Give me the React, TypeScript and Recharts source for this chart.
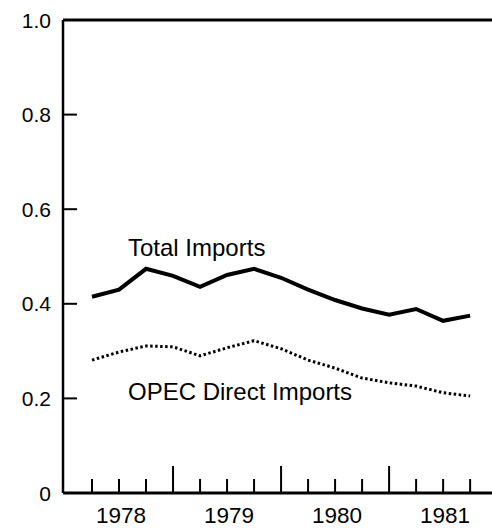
import { LineChart, Line, XAxis, YAxis, ReferenceLine } from "recharts";

// quarter index: 1 = end of Q1 1978 ... 15 = end of Q3 1981
const quarters = [1, 2, 3, 4, 5, 6, 7, 8, 9, 10, 11, 12, 13, 14, 15];
const totalImports = [0.415, 0.43, 0.474, 0.459, 0.436, 0.461, 0.474, 0.455, 0.43, 0.408, 0.39, 0.377, 0.389, 0.364, 0.375];
const opecDirectImports = [0.281, 0.298, 0.311, 0.309, 0.29, 0.307, 0.322, 0.305, 0.281, 0.264, 0.243, 0.233, 0.226, 0.212, 0.205];
const yearLabels = ["1978", "1979", "1980", "1981"];
const yTicks = [0, 0.2, 0.4, 0.6, 0.8, 1.0];

const data = quarters.map((q, i) => ({
  q,
  total: totalImports[i],
  opec: opecDirectImports[i],
}));

const FONT = "'Liberation Sans', Arial, Helvetica, sans-serif";

const XTick = (props: any) => {
  const { x, y, payload } = props;
  const v = payload.value as number;
  const long = v % 4 === 0;
  const showYear = v % 4 === 2;
  return (
    <g>
      <line x1={x} x2={x} y1={y} y2={y - (long ? 27 : 14)} stroke="#000" strokeWidth={2} />
      {showYear && (
        <text x={x + 2} y={y + 30} textAnchor="middle" fontSize={22.5} fontFamily={FONT} fill="#000">
          {yearLabels[(v - 2) / 4]}
        </text>
      )}
    </g>
  );
};

const YTick = (props: any) => {
  const { x, y, payload } = props;
  const v = payload.value as number;
  const label = v === 0 ? "0" : v.toFixed(1);
  return (
    <g>
      {v > 0 && v < 1 && (
        <line x1={x + 12} x2={x + 26} y1={y} y2={y} stroke="#000" strokeWidth={2} />
      )}
      <text x={x} y={y} textAnchor="end" dominantBaseline="central" fontSize={21} fontFamily={FONT} fill="#000">
        {label}
      </text>
    </g>
  );
};

export default function App() {
  return (
    <div style={{ width: 492, height: 528, background: "#fff" }}>
      <style>{`body{margin:0}`}</style>
      <LineChart
        width={492}
        height={528}
        data={data}
        margin={{ top: 20, right: 0, bottom: 0, left: 0 }}
      >
        <XAxis
          dataKey="q"
          type="number"
          domain={[-0.074, 15.81]}
          ticks={quarters}
          interval={0}
          axisLine={{ stroke: "#000", strokeWidth: 3 }}
          tickLine={false}
          tickSize={0}
          tickMargin={0}
          height={35}
          tick={<XTick />}
        />
        <YAxis
          type="number"
          domain={[0, 1]}
          ticks={yTicks}
          interval={0}
          width={63}
          axisLine={{ stroke: "#000", strokeWidth: 2.5 }}
          tickLine={false}
          tickSize={0}
          tickMargin={12}
          tick={<YTick />}
        />
        <ReferenceLine y={1} stroke="#000" strokeWidth={3} />
        <Line
          type="linear"
          dataKey="total"
          stroke="#000"
          strokeWidth={4}
          dot={false}
          isAnimationActive={false}
        />
        <Line
          type="linear"
          dataKey="opec"
          stroke="#000"
          strokeWidth={3}
          strokeDasharray="2.5 2.5"
          dot={false}
          isAnimationActive={false}
        />
        <text x={128} y={256} fontSize={24} fontFamily={FONT} fill="#000">
          Total Imports
        </text>
        <text x={128} y={400} fontSize={24} fontFamily={FONT} fill="#000">
          OPEC Direct Imports
        </text>
      </LineChart>
    </div>
  );
}
